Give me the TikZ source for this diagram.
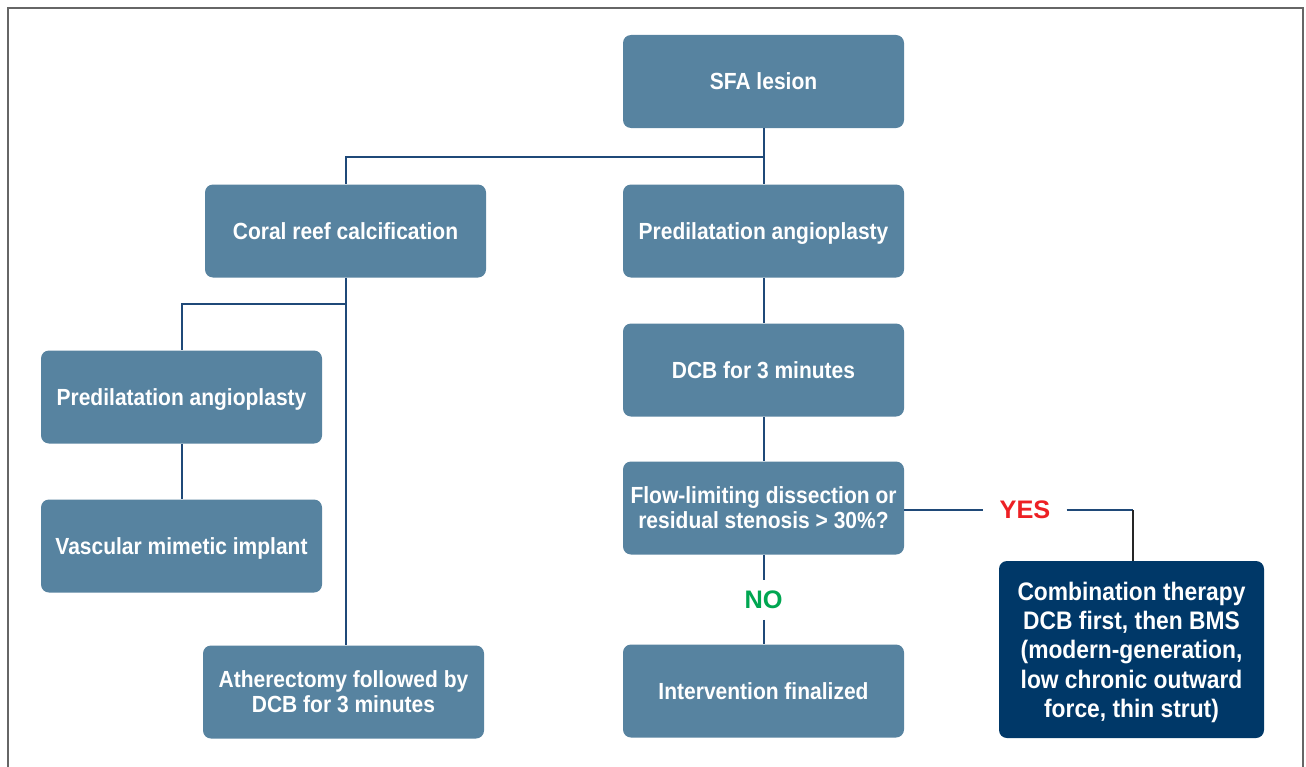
\documentclass[tikz,border=0pt]{standalone}
\usepackage{fontspec}
\setmainfont{Liberation Sans}
\newfontfamily\boxfont[FakeStretch=0.9]{Liberation Sans}
\newfontfamily\lblfont{Liberation Sans}
\definecolor{boxblue}{RGB}{87,131,160}
\definecolor{darknavy}{RGB}{0,56,104}
\definecolor{linenavy}{RGB}{31,73,120}
\definecolor{yesred}{RGB}{237,32,36}
\definecolor{nogreen}{RGB}{0,166,81}
\definecolor{framegray}{RGB}{102,102,102}
\begin{document}
\begin{tikzpicture}[x=0.75pt,y=-0.75pt,
  box/.style={fill=boxblue, rounded corners=6pt, text=white, align=center,
    minimum width=281*0.75pt, minimum height=93*0.75pt, inner sep=0pt,
    font=\boxfont\bfseries\fontsize{17.5pt}{18.75pt}\selectfont},
  oneline/.style={text height=12.5pt, text depth=0pt},
  nodepth/.style={text depth=0pt},
  bigbox/.style={fill=darknavy, rounded corners=6pt, text=white, align=center,
    minimum width=265*0.75pt, minimum height=177*0.75pt, inner sep=0pt,
    font=\boxfont\bfseries\fontsize{19pt}{22pt}\selectfont},
  conn/.style={draw=linenavy, line width=1.5pt},
  lbl/.style={font=\lblfont\bfseries\fontsize{19pt}{22pt}\selectfont, inner sep=0pt}]
\useasboundingbox (0,0) rectangle (1306,767);
\draw[framegray, line width=1.6pt] (8,767) -- (8,8) -- (1303,8) -- (1303,767);

\node[box, oneline] (sfa) at (763.5,81.5) {SFA lesion};
\node[box, oneline] (coral) at (345.5,231) {Coral reef calcification};
\node[box, oneline] (predR) at (763.5,231) {Predilatation angioplasty};
\node[box, oneline] (dcb) at (763.5,370) {DCB for 3 minutes};
\node[box] (flow) at (763.5,508) {Flow-limiting dissection or\\residual stenosis > 30\%?};
\node[box, oneline] (final) at (763.5,691) {Intervention finalized};
\node[box, oneline] (predL) at (181.5,397) {Predilatation angioplasty};
\node[box, oneline] (vmi) at (181.5,546) {Vascular mimetic implant};
\node[box, nodepth] (ather) at (343.5,692) {Atherectomy followed by\\DCB for 3 minutes};
\node[bigbox, nodepth] (combo) at (1131.5,649.5) {Combination therapy\\DCB first, then BMS\\(modern-generation,\\low chronic outward\\force, thin strut)};

\node[lbl, text=yesred] (yes) at (1025,510) {YES};
\node[lbl, text=nogreen] (no) at (763.5,600) {NO};

\coordinate (split) at (763.5,157);
\coordinate (cbranch) at (345.5,304);
\coordinate (ycorner) at (1133,510);

\draw[conn] (sfa.south) -- (predR.north);
\draw[conn] (split) -| (coral.north);
\draw[conn] (coral.south) -- (coral.south |- ather.north);
\draw[conn] (cbranch) -| (predL.north);
\draw[conn] (predL.south) -- (vmi.north);
\draw[conn] (predR.south) -- (dcb.north);
\draw[conn] (dcb.south) -- (flow.north);
\draw[conn] (flow.south) -- ([yshift=8pt]no.north);
\draw[conn] ([yshift=-8pt]no.south) -- (final.north);
\draw[conn] (flow.east |- ycorner) -- ([xshift=-12pt]yes.west |- ycorner);
\draw[conn] ([xshift=12pt]yes.east |- ycorner) -- (ycorner);
\draw[draw=black!85, line width=1.5pt] (ycorner) -- (ycorner |- combo.north);
\end{tikzpicture}
\end{document}
